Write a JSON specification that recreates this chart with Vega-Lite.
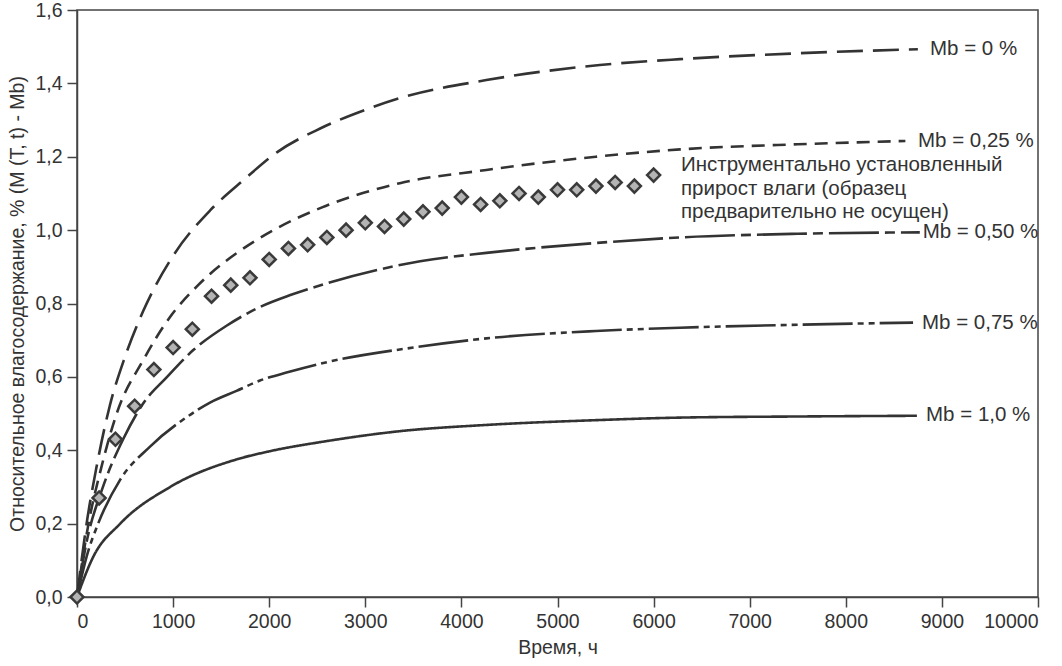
{
  "$schema": "https://vega.github.io/schema/vega-lite/v6.json",
  "autosize": "none",
  "width": 961,
  "height": 587,
  "padding": {"left": 77, "top": 10, "right": 24, "bottom": 69},
  "background": "white",
  "config": {
    "font": "Liberation Sans",
    "view": {"stroke": "#444", "strokeWidth": 1.5},
    "axis": {
      "grid": false,
      "domainColor": "#444",
      "domainWidth": 1.5,
      "tickColor": "#444",
      "tickWidth": 1.5,
      "tickSize": 10,
      "labelFont": "Liberation Sans",
      "labelFontSize": 19.5,
      "labelColor": "#333",
      "titleFont": "Liberation Sans",
      "titleFontSize": 19.5,
      "titleFontWeight": "normal",
      "titleColor": "#333"
    }
  },
  "datasets": {
    "curves": [
      {"t": 0, "v": 0, "s": "0"}, {"t": 100, "v": 0.2, "s": "0"}, {"t": 200, "v": 0.35, "s": "0"},
      {"t": 340, "v": 0.52, "s": "0"}, {"t": 500, "v": 0.655, "s": "0"}, {"t": 690, "v": 0.78, "s": "0"},
      {"t": 1000, "v": 0.93, "s": "0"}, {"t": 1390, "v": 1.055, "s": "0"}, {"t": 1735, "v": 1.137, "s": "0"},
      {"t": 2080, "v": 1.212, "s": "0"}, {"t": 2530, "v": 1.277, "s": "0"}, {"t": 3000, "v": 1.328, "s": "0"},
      {"t": 3360, "v": 1.36, "s": "0"}, {"t": 4260, "v": 1.409, "s": "0"}, {"t": 5440, "v": 1.45, "s": "0"},
      {"t": 6275, "v": 1.466, "s": "0"}, {"t": 7500, "v": 1.482, "s": "0"}, {"t": 8750, "v": 1.493, "s": "0"},

      {"t": 0, "v": 0, "s": "0,25"}, {"t": 120, "v": 0.2, "s": "0,25"}, {"t": 250, "v": 0.35, "s": "0,25"},
      {"t": 413, "v": 0.5, "s": "0,25"}, {"t": 690, "v": 0.646, "s": "0,25"}, {"t": 970, "v": 0.764, "s": "0,25"},
      {"t": 1245, "v": 0.846, "s": "0,25"}, {"t": 1390, "v": 0.882, "s": "0,25"}, {"t": 1660, "v": 0.937, "s": "0,25"},
      {"t": 2080, "v": 1.005, "s": "0,25"}, {"t": 2550, "v": 1.062, "s": "0,25"}, {"t": 3360, "v": 1.128, "s": "0,25"},
      {"t": 4260, "v": 1.164, "s": "0,25"}, {"t": 5400, "v": 1.2, "s": "0,25"}, {"t": 6275, "v": 1.22, "s": "0,25"},
      {"t": 7500, "v": 1.234, "s": "0,25"}, {"t": 8620, "v": 1.243, "s": "0,25"},

      {"t": 0, "v": 0, "s": "0,50"}, {"t": 100, "v": 0.15, "s": "0,50"}, {"t": 270, "v": 0.3, "s": "0,50"},
      {"t": 480, "v": 0.43, "s": "0,50"}, {"t": 690, "v": 0.528, "s": "0,50"}, {"t": 930, "v": 0.598, "s": "0,50"},
      {"t": 1210, "v": 0.673, "s": "0,50"}, {"t": 1560, "v": 0.74, "s": "0,50"}, {"t": 1900, "v": 0.79, "s": "0,50"},
      {"t": 2220, "v": 0.823, "s": "0,50"}, {"t": 2600, "v": 0.855, "s": "0,50"}, {"t": 3570, "v": 0.915, "s": "0,50"},
      {"t": 4260, "v": 0.938, "s": "0,50"}, {"t": 5400, "v": 0.965, "s": "0,50"}, {"t": 6275, "v": 0.98, "s": "0,50"},
      {"t": 7500, "v": 0.99, "s": "0,50"}, {"t": 8770, "v": 0.994, "s": "0,50"},

      {"t": 0, "v": 0, "s": "0,75"}, {"t": 100, "v": 0.11, "s": "0,75"}, {"t": 220, "v": 0.2, "s": "0,75"},
      {"t": 450, "v": 0.32, "s": "0,75"}, {"t": 760, "v": 0.41, "s": "0,75"}, {"t": 1140, "v": 0.49, "s": "0,75"},
      {"t": 1384, "v": 0.53, "s": "0,75"}, {"t": 1660, "v": 0.562, "s": "0,75"}, {"t": 1904, "v": 0.59, "s": "0,75"},
      {"t": 2200, "v": 0.613, "s": "0,75"}, {"t": 2600, "v": 0.64, "s": "0,75"}, {"t": 3500, "v": 0.68, "s": "0,75"},
      {"t": 4260, "v": 0.705, "s": "0,75"}, {"t": 5400, "v": 0.725, "s": "0,75"}, {"t": 6275, "v": 0.734, "s": "0,75"},
      {"t": 7500, "v": 0.742, "s": "0,75"}, {"t": 8700, "v": 0.748, "s": "0,75"},

      {"t": 0, "v": 0, "s": "1,0"}, {"t": 170, "v": 0.11, "s": "1,0"}, {"t": 450, "v": 0.2, "s": "1,0"},
      {"t": 970, "v": 0.3, "s": "1,0"}, {"t": 1660, "v": 0.375, "s": "1,0"}, {"t": 2000, "v": 0.397, "s": "1,0"},
      {"t": 2600, "v": 0.425, "s": "1,0"}, {"t": 3360, "v": 0.452, "s": "1,0"}, {"t": 4260, "v": 0.469, "s": "1,0"},
      {"t": 5400, "v": 0.482, "s": "1,0"}, {"t": 6275, "v": 0.489, "s": "1,0"}, {"t": 7500, "v": 0.492, "s": "1,0"},
      {"t": 8740, "v": 0.494, "s": "1,0"}
    ],
    "measured": [
      {"t": 0, "v": 0}, {"t": 230, "v": 0.27}, {"t": 400, "v": 0.43}, {"t": 600, "v": 0.52},
      {"t": 800, "v": 0.62}, {"t": 1000, "v": 0.68}, {"t": 1200, "v": 0.73}, {"t": 1400, "v": 0.82},
      {"t": 1600, "v": 0.85}, {"t": 1800, "v": 0.87}, {"t": 2000, "v": 0.92}, {"t": 2200, "v": 0.95},
      {"t": 2400, "v": 0.96}, {"t": 2600, "v": 0.98}, {"t": 2800, "v": 1.0}, {"t": 3000, "v": 1.02},
      {"t": 3200, "v": 1.01}, {"t": 3400, "v": 1.03}, {"t": 3600, "v": 1.05}, {"t": 3800, "v": 1.06},
      {"t": 4000, "v": 1.09}, {"t": 4200, "v": 1.07}, {"t": 4400, "v": 1.08}, {"t": 4600, "v": 1.1},
      {"t": 4800, "v": 1.09}, {"t": 5000, "v": 1.11}, {"t": 5200, "v": 1.11}, {"t": 5400, "v": 1.12},
      {"t": 5600, "v": 1.13}, {"t": 5800, "v": 1.12}, {"t": 6000, "v": 1.15}
    ],
    "labels": [
      {"t": 8876, "v": 1.494, "label": "Mb = 0 %"},
      {"t": 8751, "v": 1.243, "label": "Mb = 0,25 %"},
      {"t": 8800, "v": 0.995, "label": "Mb = 0,50 %"},
      {"t": 8793, "v": 0.747, "label": "Mb = 0,75 %"},
      {"t": 8835, "v": 0.496, "label": "Mb = 1,0 %"},
      {"t": 6285, "v": 1.177, "label": "Инструментально установленный"},
      {"t": 6285, "v": 1.113, "label": "прирост влаги (образец"},
      {"t": 6285, "v": 1.049, "label": "предварительно не осущен)"}
    ]
  },
  "encoding": {
    "x": {
      "field": "t",
      "type": "quantitative",
      "title": "Время, ч",
      "scale": {"domain": [0, 10000], "nice": false, "zero": false},
      "axis": {"values": [0, 1000, 2000, 3000, 4000, 5000, 6000, 7000, 8000, 9000, 10000], "format": "d", "labelPadding": 5, "titlePadding": 8}
    },
    "y": {
      "field": "v",
      "type": "quantitative",
      "title": "Относительное влагосодержание, % (M (T, t) - Mb)",
      "scale": {"domain": [0, 1.6], "nice": false},
      "axis": {
        "values": [0, 0.2, 0.4, 0.6, 0.8, 1.0, 1.2, 1.4, 1.6],
        "labelExpr": "replace(format(datum.value, '.1f'), '.', ',')",
        "labelPadding": 5,
        "titlePadding": 7
      }
    }
  },
  "layer": [
    {
      "data": {"name": "curves"},
      "mark": {"type": "line", "color": "#333", "strokeWidth": 2.6, "interpolate": "monotone"},
      "encoding": {
        "detail": {"field": "s", "type": "nominal"},
        "strokeDash": {
          "field": "s",
          "type": "nominal",
          "legend": null,
          "scale": {
            "domain": ["0", "0,25", "0,50", "0,75", "1,0"],
            "range": [[26, 10], [13, 8], [50, 6, 10, 6], [50, 5, 6, 5, 6, 5], [1, 0]]
          }
        }
      }
    },
    {
      "data": {"name": "measured"},
      "mark": {"type": "point", "shape": "diamond", "filled": true, "fill": "#b4b4b4", "stroke": "#3a3a3a", "strokeWidth": 2.5, "size": 170, "opacity": 1}
    },
    {
      "data": {"name": "labels"},
      "mark": {"type": "text", "align": "left", "baseline": "middle", "fontSize": 20.5, "color": "#333", "font": "Liberation Sans"},
      "encoding": {"text": {"field": "label", "type": "nominal"}}
    }
  ]
}
